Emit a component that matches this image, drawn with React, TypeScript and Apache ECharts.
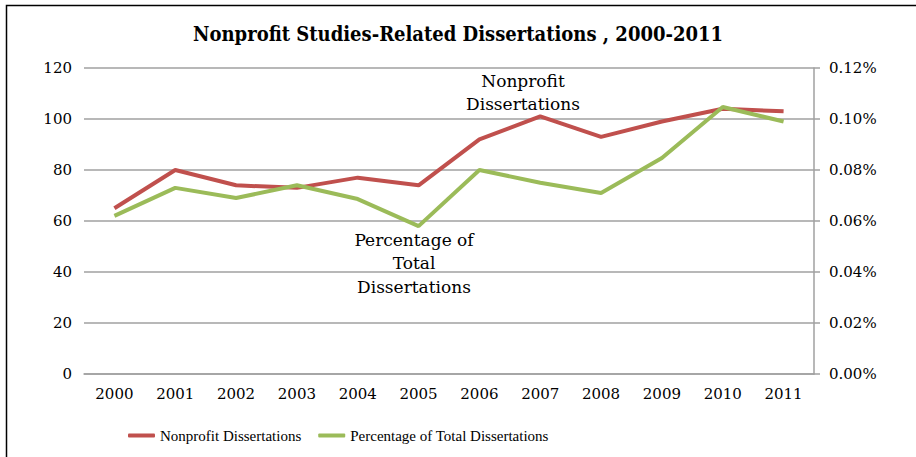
import React, { useEffect, useRef } from "react";
import * as echarts from "echarts";

const years = ["2000", "2001", "2002", "2003", "2004", "2005", "2006", "2007", "2008", "2009", "2010", "2011"];
const nonprofitDissertations = [65, 80, 74, 73, 77, 74, 92, 101, 93, 99, 104, 103];
const percentOfTotal = [0.062, 0.073, 0.069, 0.074, 0.0686, 0.058, 0.08, 0.075, 0.071, 0.0847, 0.1047, 0.099];
const seriesNames = ["Nonprofit Dissertations", "Percentage of Total Dissertations"];
const titleText = "Nonprofit Studies-Related Dissertations , 2000-2011";

const TICK_FONT = "'DejaVu Serif', serif";
const COND_FONT = "'DejaVu Serif Condensed', 'Liberation Serif', serif";
const LEGEND_FONT = "'Liberation Serif', serif";

export default function App() {
  const ref = useRef<HTMLDivElement>(null);
  useEffect(() => {
    if (!ref.current) return;
    const chart = echarts.init(ref.current, null, { renderer: "svg" });
    chart.setOption({
      animation: false,
      backgroundColor: "#ffffff",
      title: {
        text: titleText,
        left: "center",
        top: 19,
        textStyle: { fontFamily: COND_FONT, fontWeight: "bold", fontSize: 20, color: "#000" },
      },
      grid: { left: 84, right: 102, top: 68, bottom: 83, containLabel: false },
      legend: {
        top: 423,
        left: 123,
        itemWidth: 27,
        itemHeight: 4,
        itemGap: 17,
        icon: "roundRect",
        textStyle: { fontFamily: LEGEND_FONT, fontSize: 15, color: "#000" },
        data: seriesNames,
      },
      xAxis: {
        type: "category",
        data: years,
        boundaryGap: true,
        axisLine: { show: true, lineStyle: { color: "#a0a0a0", width: 1.5 } },
        axisTick: { show: false },
        axisLabel: { fontFamily: TICK_FONT, fontSize: 15, color: "#000", margin: 12 },
      },
      yAxis: [
        {
          type: "value",
          min: 0,
          max: 120,
          interval: 20,
          axisLine: { show: false },
          axisTick: { show: false },
          axisLabel: { fontFamily: TICK_FONT, fontSize: 15, color: "#000", margin: 12 },
          splitLine: { lineStyle: { color: "#a0a0a0", width: 1.5 } },
        },
        {
          type: "value",
          min: 0,
          max: 0.12,
          interval: 0.02,
          position: "right",
          axisLine: { show: true, lineStyle: { color: "#a0a0a0", width: 1.5 } },
          axisTick: { show: true, length: 6, lineStyle: { color: "#a0a0a0", width: 1.5 } },
          axisLabel: {
            fontFamily: TICK_FONT,
            fontSize: 15,
            color: "#000",
            margin: 15,
            formatter: (v: number) => v.toFixed(2) + "%",
          },
          splitLine: { show: false },
        },
      ],
      series: [
        {
          name: seriesNames[0],
          type: "line",
          yAxisIndex: 0,
          data: nonprofitDissertations,
          showSymbol: false,
          symbol: "none",
          lineStyle: { color: "#C0504D", width: 4 },
          itemStyle: { color: "#C0504D" },
        },
        {
          name: seriesNames[1],
          type: "line",
          yAxisIndex: 1,
          data: percentOfTotal,
          showSymbol: false,
          symbol: "none",
          lineStyle: { color: "#9BBB59", width: 4 },
          itemStyle: { color: "#9BBB59" },
        },
      ],
      graphic: [
        {
          type: "rect",
          shape: { x: 6.5, y: 5.5, width: 920, height: 470 },
          style: { fill: "none", stroke: "#000", lineWidth: 1.5 },
          silent: true,
        },
        {
          type: "text",
          x: 523,
          y: 69,
          style: {
            text: "Nonprofit\nDissertations",
            fontFamily: TICK_FONT,
            fontSize: 17,
            lineHeight: 23,
            fill: "#000",
            align: "center",
            verticalAlign: "top",
          },
        },
        {
          type: "text",
          x: 414,
          y: 228,
          style: {
            text: "Percentage of\nTotal\nDissertations",
            fontFamily: TICK_FONT,
            fontSize: 17,
            lineHeight: 23.5,
            fill: "#000",
            align: "center",
            verticalAlign: "top",
          },
        },
      ],
    });
    return () => chart.dispose();
  }, []);
  return <div ref={ref} style={{ position: "fixed", left: 0, top: 0, width: 916, height: 457 }} />;
}
